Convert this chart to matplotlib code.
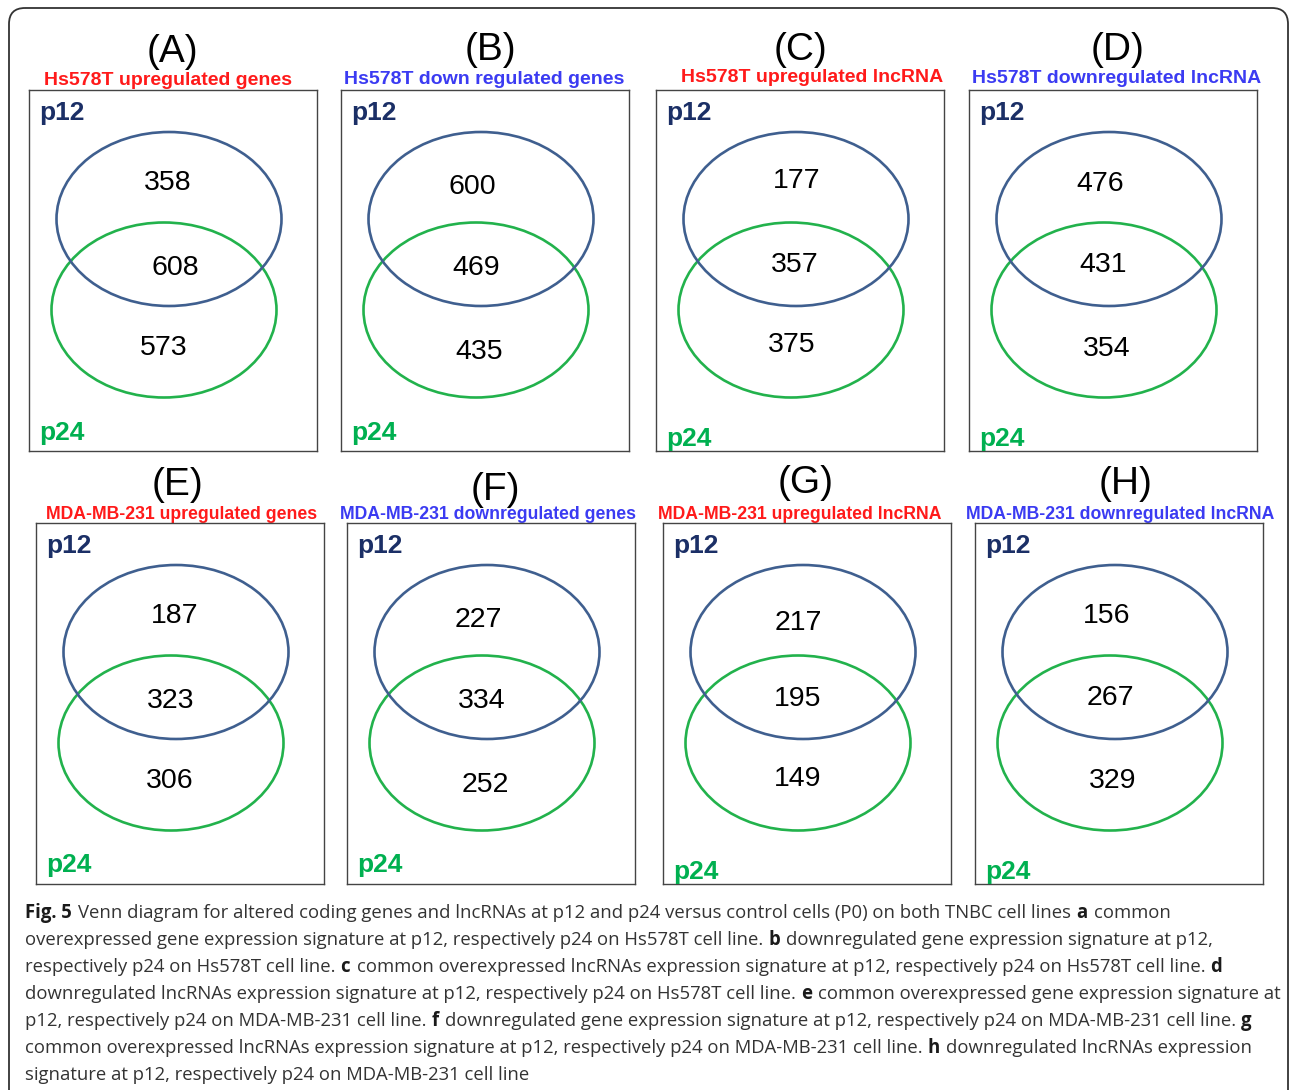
import matplotlib
matplotlib.use('Agg')
import matplotlib.pyplot as plt
from matplotlib.patches import Ellipse, FancyBboxPatch

plt.rcParams['font.family'] = ['Liberation Sans', 'DejaVu Sans']

# ---- data -------------------------------------------------------------
letters = ['A', 'B', 'C', 'D', 'E', 'F', 'G', 'H']
titles = [
    'Hs578T upregulated genes',
    'Hs578T down regulated genes',
    'Hs578T upregulated lncRNA',
    'Hs578T downregulated lncRNA',
    'MDA-MB-231 upregulated genes',
    'MDA-MB-231 downregulated genes',
    'MDA-MB-231 upregulated lncRNA',
    'MDA-MB-231 downregulated lncRNA',
]
direction = ['up', 'down', 'up', 'down', 'up', 'down', 'up', 'down']
only_p12 = [358, 600, 177, 476, 187, 227, 217, 156]
shared   = [608, 469, 357, 431, 323, 334, 195, 267]
only_p24 = [573, 435, 375, 354, 306, 252, 149, 329]
set_names = ('p12', 'p24')

caption = [
    [('Fig. 5', True), ('Venn diagram for altered coding genes and lncRNAs at p12 and p24 versus '
                        'control cells (P0) on both TNBC cell lines', False), ('a', True), ('common', False)],
    [('overexpressed gene expression signature at p12, respectively p24 on Hs578T cell line.', False),
     ('b', True), ('downregulated gene expression signature at p12,', False)],
    [('respectively p24 on Hs578T cell line.', False), ('c', True),
     ('common overexpressed lncRNAs expression signature at p12, respectively p24 on Hs578T cell line.', False),
     ('d', True)],
    [('downregulated lncRNAs expression signature at p12, respectively p24 on Hs578T cell line.', False),
     ('e', True), ('common overexpressed gene expression signature at', False)],
    [('p12, respectively p24 on MDA-MB-231 cell line.', False), ('f', True),
     ('downregulated gene expression signature at p12, respectively p24 on MDA-MB-231 cell line.', False),
     ('g', True)],
    [('common overexpressed lncRNAs expression signature at p12, respectively p24 on MDA-MB-231 cell line.', False),
     ('h', True), ('downregulated lncRNAs expression', False)],
    [('signature at p12, respectively p24 on MDA-MB-231 cell line', False)],
]

# ---- layout (pixels) --------------------------------------------------
W, H = 1290, 1090
box_left = [29, 341, 656, 969, 36, 347, 663, 975]
box_top = [90, 90, 90, 90, 523, 523, 523, 523]
box_w, box_h = 288, 361

letter_x = [172, 490, 800, 1118, 178, 495, 806, 1126]
letter_base = [62, 60, 60, 60, 495, 500, 493, 494]
title_x = [168, 484, 812, 1117, 182, 488, 800, 1120]
title_base = [85, 84, 82, 83, 519, 519, 519, 519]
title_size = [14, 14, 14, 14, 12.7, 12.7, 12.7, 12.7]

# label positions inside each box: (only p12, shared, only p24)
count_pos = [
    [(139, 93), (146, 178), (135, 258)],
    [(131, 97), (135, 178), (138, 262)],
    [(141, 91), (139, 175), (136, 255)],
    [(131, 94), (134, 175), (138, 259)],
    [(139, 93), (135, 178), (134, 258)],
    [(131, 97), (135, 178), (138, 262)],
    [(135, 100), (135, 176), (135, 256)],
    [(132, 93), (135, 175), (138, 258)],
]
p24_base = [350, 350, 356, 356, 349, 349, 356, 356]

RED, BLUE = '#ff1a1a', '#3b3bf2'
P12_COL, P24_COL = '#1b2f66', '#00b050'
RING_P12, RING_P24 = '#3f5f8f', '#22b24c'

fig = plt.figure(figsize=(W / 100, H / 100), dpi=100)

# full-figure overlay in pixel units for headings, caption and frame
bg = fig.add_axes([0, 0, 1, 1])
bg.set_xlim(0, W)
bg.set_ylim(H, 0)
bg.axis('off')
bg.add_patch(FancyBboxPatch((9, 8), 1279, 1100, boxstyle='round,pad=0,rounding_size=16',
                            fill=False, ec='#333333', lw=1.3, clip_on=False))

for i in range(8):
    bg.text(letter_x[i], letter_base[i], f'({letters[i]})', fontsize=28,
            ha='center', va='baseline', color='black')
    bg.text(title_x[i], title_base[i], titles[i], fontsize=title_size[i], fontweight='bold',
            ha='center', va='baseline', color=RED if direction[i] == 'up' else BLUE)

    ax = fig.add_axes([box_left[i] / W, 1 - (box_top[i] + box_h) / H, box_w / W, box_h / H])
    ax.set_xlim(0, box_w)
    ax.set_ylim(box_h, 0)
    ax.set_xticks([])
    ax.set_yticks([])
    for s in ax.spines.values():
        s.set_color('#444444')
        s.set_linewidth(1.0)

    ax.add_patch(Ellipse((135, 220), 225, 175, fill=False, ec=RING_P24, lw=1.9))
    ax.add_patch(Ellipse((140, 129), 225, 174, fill=False, ec=RING_P12, lw=1.9))

    for (x, y), n in zip(count_pos[i], (only_p12[i], shared[i], only_p24[i])):
        ax.text(x, y, str(n), fontsize=20.5, ha='center', va='center', color='black')

    ax.text(10, 30, set_names[0], fontsize=19, fontweight='bold', color=P12_COL,
            ha='left', va='baseline')
    ax.text(10, p24_base[i], set_names[1], fontsize=19, fontweight='bold', color=P24_COL,
            ha='left', va='baseline', clip_on=True)

# caption with bold run markers
renderer = fig.canvas.get_renderer()
cap_kw = dict(family=['Open Sans', 'DejaVu Sans'], fontsize=13.35, va='baseline', ha='left')


def text_width(s, bold):
    t = bg.text(0, 0, s, fontweight='bold' if bold else 'normal', **cap_kw)
    w = t.get_window_extent(renderer).width
    t.remove()
    return w


space_w = text_width('x x', False) - text_width('xx', False)
for k, line in enumerate(caption):
    x = 25
    y = 918 + k * 27
    for s, bold in line:
        t = bg.text(x, y, s, fontweight='bold' if bold else 'normal',
                    color='#1a1a1a' if bold else '#333333', **cap_kw)
        x += t.get_window_extent(renderer).width + space_w + (2 if bold else 0)

fig.savefig('out.png', dpi=100)
plt.close(fig)
